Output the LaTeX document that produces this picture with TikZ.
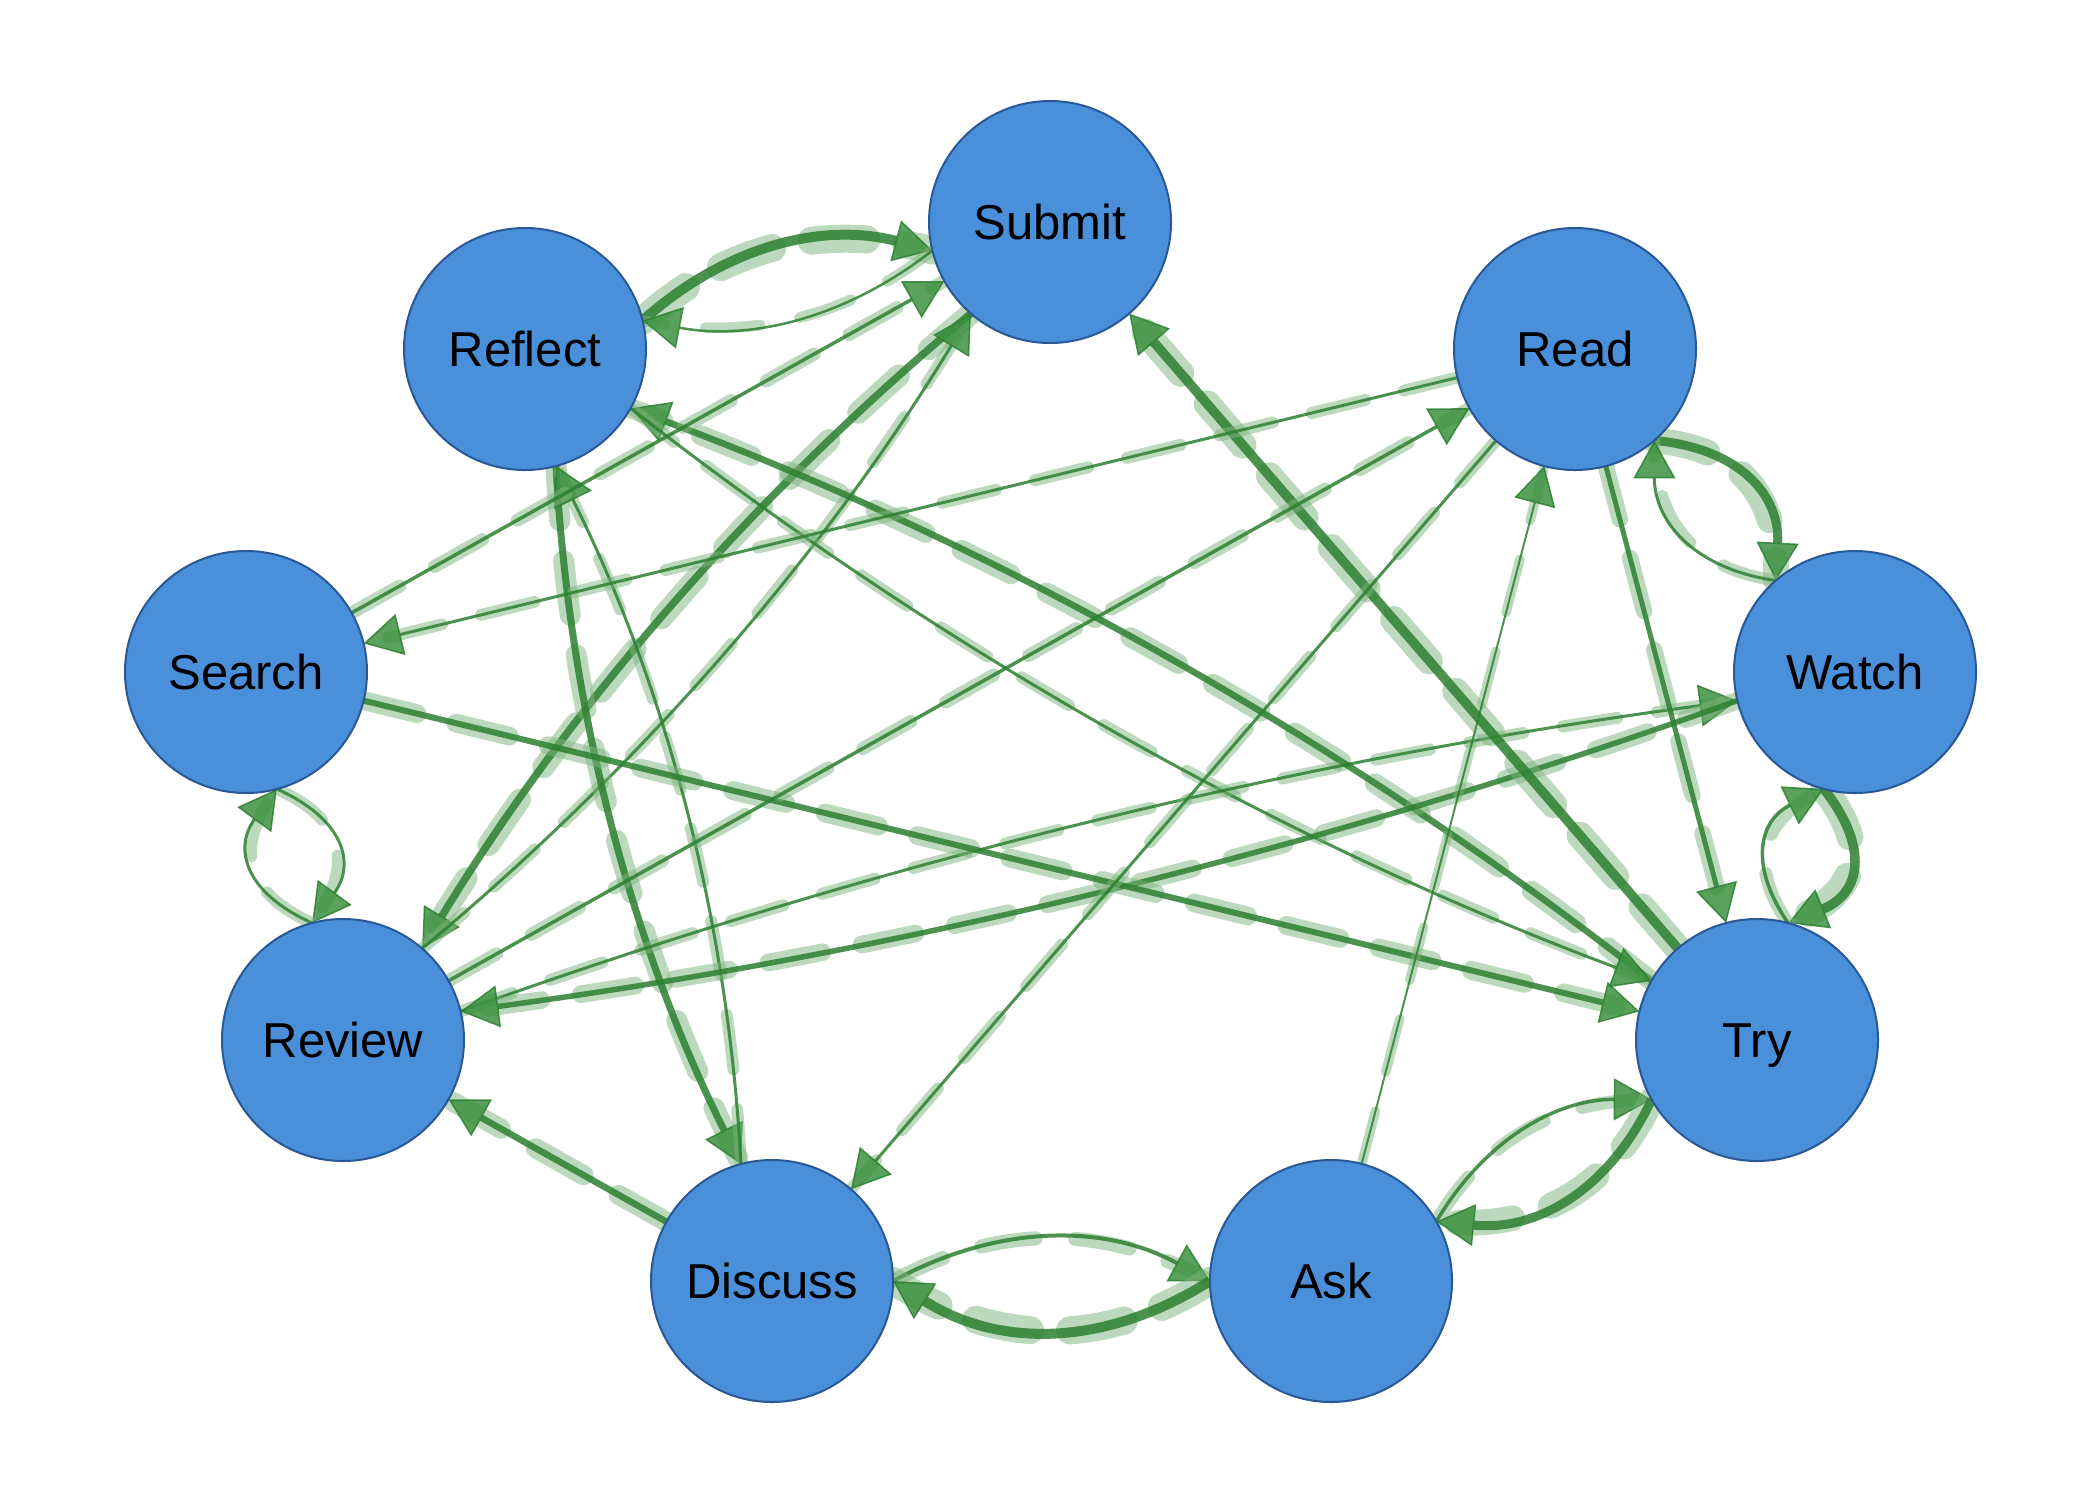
\documentclass[tikz,border=0pt]{standalone}
\usepackage{fontspec}
\newfontfamily\nodefont{Liberation Sans}
\usetikzlibrary{calc,arrows.meta,backgrounds}
\definecolor{nodeblue}{RGB}{74,143,217}
\definecolor{nodeborder}{RGB}{42,88,150}
\definecolor{edgegreen}{RGB}{44,128,48}
\definecolor{tipfill}{RGB}{60,145,64}
\definecolor{halogreen}{RGB}{125,180,125}
\tikzset{
  state/.style={circle, minimum size=242pt, inner sep=0pt, fill=nodeblue, draw=nodeborder,
    line width=2pt, font=\nodefont\fontsize{49}{58}\selectfont, text height=35pt, text depth=0pt},
  edgeline/.style={draw=edgegreen, opacity=0.85,
    -{Triangle[length=38pt 0 0, width=42pt 0 0, line width'=1.5pt, fill=tipfill]}},
  haloline/.style={draw=halogreen, draw opacity=0.5, line cap=round, dash pattern=on 55pt off 40pt},
}
\newcommand\gedge[4]{%
  \coordinate (gs) at ($(#1)!121pt!(#2)$);
  \coordinate (ge) at ($(#2)!121pt!(#1)$);
  \coordinate (gm) at ($(gs)!0.5!(ge)$);
  \coordinate (gc) at ($(gm)!#3!90:(ge)$);
  \coordinate (ga) at ($(gs)!0.6667!(gc)$);
  \coordinate (gb) at ($(ge)!0.6667!(gc)$);
  \pgfmathsetmacro\gw{#4}%
  \pgfmathsetmacro\hw{2.3*#4+5}%
  \draw[haloline, line width=\hw pt] (gs) .. controls (ga) and (gb) .. (ge);
  \draw[edgeline, line width=\gw pt] (gs) .. controls (ga) and (gb) .. (ge);
}
\begin{document}
\begin{tikzpicture}[x=1pt,y=1pt]
\useasboundingbox (0,0) rectangle (2100,-1500);
\node[state] (Submit)  at (1050,-222)  {Submit};
\node[state] (Read)    at (1575,-349)  {Read};
\node[state] (Watch)   at (1855,-672)  {Watch};
\node[state] (Try)     at (1757,-1040) {Try};
\node[state] (Ask)     at (1331,-1281) {Ask};
\node[state] (Discuss) at (772,-1281)  {Discuss};
\node[state] (Review)  at (343,-1040)  {Review};
\node[state] (Search)  at (246,-672)   {Search};
\node[state] (Reflect) at (525,-349)   {Reflect};
\begin{pgfonlayer}{background}
\fill[white] (0,0) rectangle (2100,-1500);
\gedge{Reflect}{Submit}{80pt}{10}
\gedge{Submit}{Reflect}{68pt}{2.5}
\gedge{Read}{Watch}{89pt}{9}
\gedge{Watch}{Read}{80pt}{3}
\gedge{Watch}{Try}{92pt}{9.5}
\gedge{Try}{Watch}{81pt}{3.5}
\gedge{Search}{Review}{86pt}{3}
\gedge{Review}{Search}{86pt}{3}
\gedge{Discuss}{Ask}{86pt}{4}
\gedge{Ask}{Discuss}{100pt}{10}
\gedge{Ask}{Try}{71pt}{3.5}
\gedge{Try}{Ask}{87pt}{9}
\gedge{Submit}{Review}{-70pt}{7.5}
\gedge{Review}{Submit}{-70pt}{3}
\gedge{Reflect}{Discuss}{-75pt}{7}
\gedge{Discuss}{Reflect}{-75pt}{3}
\gedge{Try}{Reflect}{-90pt}{6.5}
\gedge{Reflect}{Try}{-90pt}{3}
\gedge{Review}{Watch}{70pt}{3}
\gedge{Watch}{Review}{70pt}{5.5}
\gedge{Try}{Submit}{0pt}{9.5}
\gedge{Search}{Submit}{0pt}{3.5}
\gedge{Read}{Search}{0pt}{3}
\gedge{Search}{Try}{0pt}{6}
\gedge{Review}{Read}{0pt}{3.5}
\gedge{Read}{Discuss}{0pt}{3}
\gedge{Ask}{Read}{0pt}{2}
\gedge{Read}{Try}{0pt}{5}
\gedge{Discuss}{Review}{0pt}{6.5}
\end{pgfonlayer}
\end{tikzpicture}
\end{document}
